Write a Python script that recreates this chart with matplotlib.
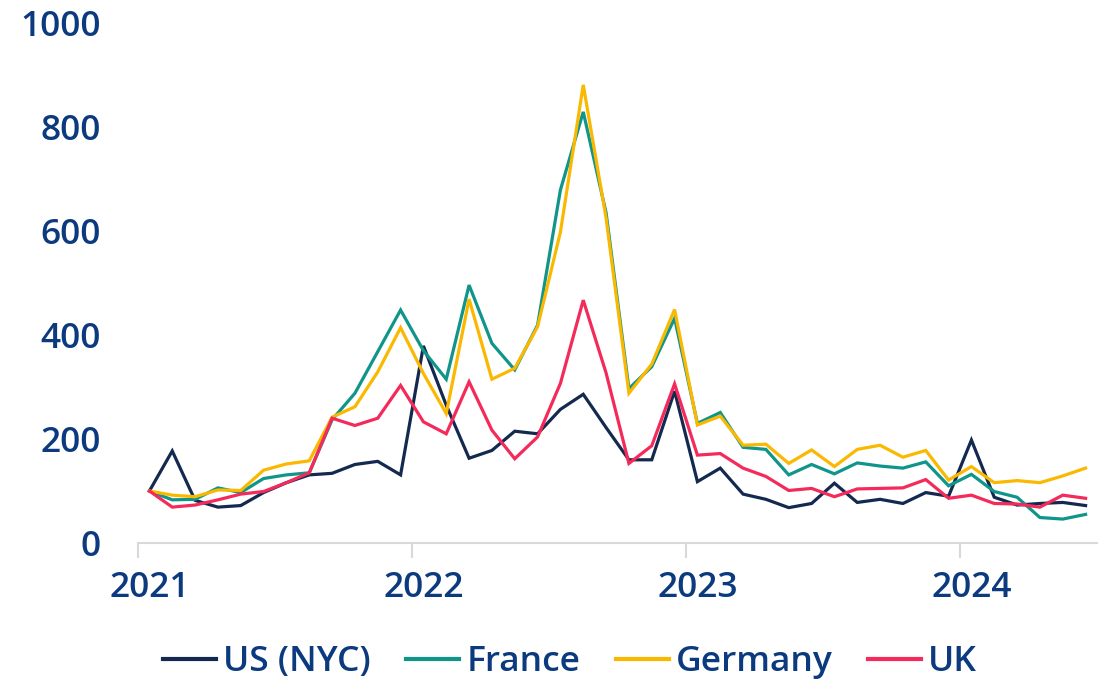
import matplotlib
matplotlib.use("Agg")
import matplotlib.pyplot as plt
import numpy as np

# Monthly index (Jan 2021 = 0 ... Jun 2024 = 41)
year_labels = ["2021", "2022", "2023", "2024"]
series_names = ["US (NYC)", "France", "Germany", "UK"]

us = [100, 177, 82, 69, 72, 97, 116, 131, 134, 151, 157, 131,
      379, 265, 163, 178, 215, 210, 257, 286, 222, 160, 160, 292,
      118, 144, 94, 84, 68, 76, 115, 78, 84, 76, 97, 90,
      198, 88, 73, 76, 78, 72]
france = [100, 83, 84, 106, 97, 124, 131, 135, 237, 288, 368, 448,
          370, 315, 496, 384, 333, 419, 679, 829, 635, 297, 339, 432,
          230, 251, 184, 180, 131, 151, 133, 154, 148, 144, 156, 110,
          132, 99, 88, 49, 46, 55]
germany = [100, 92, 89, 102, 101, 140, 152, 158, 242, 262, 329, 414,
           326, 249, 469, 315, 336, 416, 598, 881, 625, 288, 344, 449,
           227, 244, 188, 190, 153, 179, 147, 180, 188, 165, 178, 121,
           147, 116, 120, 116, 129, 144]
uk = [100, 69, 73, 83, 94, 99, 116, 135, 240, 226, 240, 303,
      233, 210, 310, 217, 162, 204, 307, 467, 327, 153, 187, 306,
      169, 172, 144, 128, 101, 105, 89, 104, 105, 106, 122, 86,
      92, 76, 75, 69, 92, 86]

colors = ["#13294f", "#0f958a", "#fbb800", "#f42a5b"]
text_color = "#0b3a7e"

plt.rcParams['font.family'] = ['Open Sans', 'DejaVu Sans']

fig = plt.figure(figsize=(11.02, 6.81), dpi=100)
ax = fig.add_axes([138/1102, 1 - 543/681, (1097-138)/1102, 520/681])

x = np.arange(len(us))
for vals, name, c in zip([us, france, germany, uk], series_names, colors):
    ax.plot(x, vals, color=c, lw=2.3, label=name, solid_joinstyle='miter')

ax.set_xlim(-0.5, len(us) - 0.5)
ax.set_ylim(0, 1000)

fs = 25.5
ax.set_xticks([0, 12, 24, 36])
ax.set_xticklabels(year_labels)
ax.set_xticks([-0.5, 11.5, 23.5, 35.5], minor=True)
ax.tick_params(axis='x', which='major', length=0, pad=20,
               labelsize=fs, labelcolor=text_color)
ax.tick_params(axis='x', which='minor', length=11, width=1.5,
               color='#d9d9d9', direction='out')
ax.set_yticks([0, 200, 400, 600, 800, 1000])
ax.tick_params(axis='y', length=0, pad=27, labelsize=fs, labelcolor=text_color)
for lab in ax.get_xticklabels() + ax.get_yticklabels():
    lab.set_fontweight('semibold')

for s in ['top', 'right', 'left']:
    ax.spines[s].set_visible(False)
ax.spines['bottom'].set_color('#d9d9d9')
ax.spines['bottom'].set_linewidth(1.5)

leg = fig.legend(loc='center', bbox_to_anchor=(570/1102, 1 - 662/681),
                 ncol=4, frameon=False, handlelength=1.5, handletextpad=0.2,
                 columnspacing=1.0, prop={'size': fs, 'weight': 'semibold'})
for t in leg.get_texts():
    t.set_color(text_color)
for h in leg.legend_handles:
    h.set_linewidth(3)

fig.savefig("out.png", dpi=100)
